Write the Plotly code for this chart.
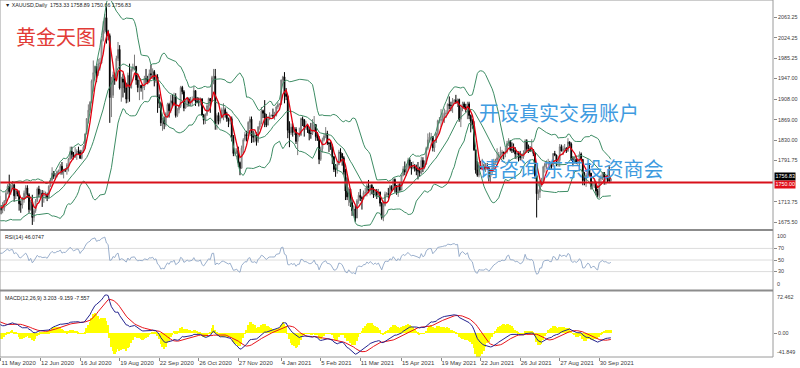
import pandas as pd
import numpy as np
import plotly.graph_objects as go

# ---------------- data (XAUUSD daily, read/estimated from the picture) ----------------
dates = pd.bdate_range("2020-04-01", "2021-10-11")   # one bar per weekday

close = [
    1591, 1613, 1620, 1663, 1647, 1646, 1683, 1683, 1713, 1727, 1716, 1717, 1683, 1694, 1686, 1714, 1730, 1727, 1713, 1707, 1713, 1687,  # 2020-04
    1700, 1702, 1705, 1686, 1725, 1702, 1698, 1702, 1715, 1730, 1743, 1733, 1745, 1746, 1725, 1735, 1728, 1710, 1708, 1718, 1730,  # 2020-05
    1740, 1727, 1699, 1714, 1684, 1697, 1715, 1738, 1728, 1730, 1725, 1727, 1727, 1722, 1743, 1755, 1768, 1762, 1763, 1771, 1772, 1781,  # 2020-06
    1770, 1775, 1774, 1784, 1795, 1809, 1803, 1798, 1802, 1809, 1808, 1796, 1810, 1817, 1842, 1871, 1887, 1902, 1942, 1958, 1970, 1957, 1975,  # 2020-07
    1976, 2019, 2038, 2062, 2035, 2028, 1911, 1915, 1954, 1944, 1985, 2002, 1929, 1946, 1940, 1929, 1908, 1953, 1929, 1964, 1968,  # 2020-08
    1970, 1944, 1930, 1934, 1929, 1931, 1947, 1946, 1940, 1956, 1954, 1960, 1944, 1950, 1912, 1900, 1863, 1868, 1861, 1881, 1898, 1886,  # 2020-09
    1905, 1900, 1913, 1877, 1888, 1894, 1930, 1922, 1891, 1902, 1908, 1900, 1905, 1906, 1924, 1904, 1902, 1902, 1908, 1878, 1868, 1879,  # 2020-10
    1895, 1909, 1904, 1949, 1951, 1862, 1877, 1866, 1873, 1888, 1888, 1879, 1871, 1866, 1871, 1837, 1805, 1807, 1811, 1788, 1777,  # 2020-11
    1815, 1831, 1841, 1838, 1864, 1870, 1838, 1836, 1840, 1828, 1855, 1863, 1886, 1881, 1872, 1859, 1871, 1877, 1877, 1876, 1877, 1893, 1898,  # 2020-12
    1898, 1944, 1950, 1918, 1913, 1849, 1844, 1855, 1845, 1851, 1828, 1840, 1840, 1871, 1869, 1855, 1856, 1850, 1843, 1843, 1848,  # 2021-01
    1860, 1837, 1834, 1794, 1814, 1831, 1838, 1843, 1825, 1824, 1818, 1799, 1775, 1775, 1784, 1808, 1805, 1797, 1770, 1734,  # 2021-02
    1723, 1738, 1712, 1697, 1700, 1683, 1716, 1726, 1722, 1720, 1731, 1731, 1744, 1735, 1745, 1738, 1727, 1734, 1726, 1732, 1711, 1684, 1707,  # 2021-03
    1728, 1729, 1728, 1743, 1737, 1756, 1744, 1732, 1746, 1736, 1763, 1776, 1770, 1778, 1793, 1783, 1777, 1780, 1778, 1773, 1772, 1768,  # 2021-04
    1792, 1779, 1785, 1815, 1831, 1836, 1836, 1816, 1826, 1843, 1867, 1868, 1869, 1876, 1881, 1881, 1898, 1896, 1896, 1903, 1906,  # 2021-05
    1903, 1907, 1870, 1891, 1899, 1893, 1888, 1899, 1877, 1866, 1858, 1812, 1774, 1764, 1782, 1778, 1779, 1776, 1781, 1778, 1761, 1770,  # 2021-06
    1777, 1787, 1792, 1797, 1803, 1803, 1808, 1806, 1808, 1824, 1829, 1812, 1812, 1811, 1804, 1806, 1802, 1797, 1799, 1806, 1829, 1814,  # 2021-07
    1813, 1810, 1812, 1805, 1763, 1729, 1732, 1752, 1752, 1780, 1786, 1787, 1788, 1781, 1781, 1805, 1802, 1790, 1792, 1818, 1810, 1814,  # 2021-08
    1815, 1810, 1827, 1823, 1795, 1789, 1794, 1788, 1793, 1804, 1794, 1754, 1754, 1764, 1774, 1768, 1743, 1750, 1750, 1734, 1726, 1757,  # 2021-09
    1761, 1769, 1760, 1762, 1756, 1753.33, 1756.83,  # 2021-10
]

high = [
    1600, 1626, 1627, 1667, 1671, 1660, 1690, 1686, 1720, 1747, 1733, 1734, 1720, 1698, 1700, 1717, 1739, 1738, 1728, 1714, 1718, 1718,
    1703, 1716, 1712, 1710, 1727, 1727, 1707, 1713, 1717, 1735, 1747, 1765, 1746, 1753, 1748, 1739, 1735, 1735, 1716, 1723, 1735,
    1745, 1745, 1730, 1717, 1727, 1700, 1719, 1741, 1744, 1737, 1736, 1735, 1733, 1731, 1745, 1759, 1779, 1772, 1768, 1773, 1775, 1785,
    1789, 1776, 1777, 1787, 1797, 1818, 1818, 1808, 1817, 1813, 1818, 1812, 1812, 1821, 1843, 1872, 1898, 1904, 1945, 1981, 1971, 1970, 1984,
    1986, 2021, 2055, 2069, 2082, 2039, 2032, 1950, 1960, 1958, 1990, 2016, 2010, 1950, 1956, 1950, 1939, 1958, 1975, 1967, 1975,
    1992, 1970, 1953, 1945, 1935, 1936, 1952, 1965, 1952, 1964, 1973, 1966, 1963, 1956, 1955, 1917, 1903, 1873, 1875, 1883, 1901, 1901,
    1916, 1917, 1920, 1919, 1891, 1897, 1933, 1933, 1925, 1906, 1912, 1911, 1912, 1913, 1932, 1924, 1912, 1911, 1911, 1910, 1880, 1881,
    1898, 1911, 1910, 1952, 1965, 1965, 1881, 1883, 1881, 1892, 1900, 1892, 1884, 1873, 1875, 1875, 1840, 1815, 1815, 1818, 1790,
    1820, 1834, 1846, 1848, 1866, 1875, 1875, 1848, 1845, 1845, 1857, 1867, 1893, 1888, 1906, 1880, 1875, 1883, 1879, 1890, 1884, 1896, 1902,
    1900, 1945, 1952, 1959, 1929, 1915, 1866, 1862, 1862, 1855, 1855, 1843, 1854, 1873, 1875, 1870, 1867, 1860, 1855, 1863, 1870,
    1876, 1860, 1845, 1838, 1818, 1835, 1842, 1855, 1848, 1827, 1828, 1822, 1800, 1785, 1790, 1812, 1815, 1805, 1800, 1776,
    1760, 1741, 1738, 1722, 1707, 1707, 1719, 1732, 1738, 1724, 1735, 1740, 1748, 1755, 1746, 1747, 1742, 1738, 1738, 1738, 1733, 1713, 1716,
    1733, 1732, 1740, 1746, 1745, 1758, 1758, 1745, 1748, 1750, 1765, 1781, 1790, 1785, 1797, 1797, 1789, 1790, 1785, 1784, 1789, 1780,
    1799, 1798, 1792, 1818, 1843, 1845, 1844, 1838, 1830, 1845, 1869, 1874, 1889, 1883, 1890, 1887, 1900, 1913, 1903, 1910, 1908,
    1916, 1909, 1909, 1894, 1903, 1903, 1899, 1903, 1903, 1879, 1870, 1866, 1812, 1791, 1789, 1791, 1795, 1785, 1787, 1787, 1780, 1771,
    1782, 1795, 1795, 1815, 1808, 1818, 1812, 1808, 1817, 1829, 1834, 1830, 1826, 1824, 1817, 1809, 1809, 1810, 1805, 1811, 1832, 1832,
    1822, 1819, 1832, 1813, 1807, 1765, 1737, 1754, 1759, 1782, 1788, 1792, 1795, 1791, 1789, 1806, 1810, 1803, 1800, 1823, 1822, 1820,
    1823, 1817, 1834, 1828, 1826, 1800, 1799, 1801, 1795, 1809, 1807, 1794, 1770, 1768, 1776, 1787, 1768, 1753, 1755, 1752, 1738, 1763,
    1765, 1770, 1770, 1763, 1765, 1781, 1758.89,
]

low = [
    1572, 1584, 1606, 1616, 1641, 1640, 1643, 1680, 1680, 1707, 1705, 1709, 1672, 1675, 1659, 1683, 1712, 1719, 1703, 1690, 1700, 1680,
    1677, 1695, 1693, 1683, 1685, 1699, 1690, 1692, 1696, 1711, 1728, 1722, 1727, 1739, 1714, 1719, 1724, 1697, 1693, 1701, 1712,
    1722, 1721, 1693, 1697, 1670, 1676, 1693, 1713, 1722, 1720, 1704, 1712, 1720, 1715, 1720, 1742, 1752, 1757, 1756, 1760, 1766, 1765,
    1765, 1758, 1770, 1765, 1771, 1793, 1795, 1794, 1797, 1793, 1802, 1795, 1794, 1806, 1814, 1842, 1862, 1882, 1900, 1922, 1943, 1940, 1952,
    1962, 1975, 2017, 2032, 2013, 2019, 1863, 1874, 1910, 1935, 1942, 1980, 1926, 1903, 1911, 1920, 1900, 1901, 1903, 1928, 1960,
    1962, 1935, 1921, 1906, 1922, 1907, 1925, 1938, 1936, 1939, 1947, 1946, 1932, 1939, 1882, 1891, 1857, 1848, 1851, 1856, 1875, 1873,
    1882, 1893, 1895, 1873, 1874, 1881, 1891, 1917, 1885, 1890, 1893, 1894, 1895, 1895, 1904, 1895, 1900, 1894, 1896, 1877, 1860, 1861,
    1876, 1885, 1882, 1902, 1936, 1850, 1850, 1860, 1862, 1871, 1868, 1873, 1865, 1855, 1860, 1828, 1800, 1800, 1804, 1780, 1764,
    1777, 1806, 1828, 1828, 1832, 1851, 1825, 1826, 1826, 1820, 1825, 1850, 1860, 1872, 1855, 1855, 1858, 1868, 1875, 1872, 1869, 1875, 1889,
    1896, 1899, 1937, 1900, 1906, 1834, 1817, 1840, 1837, 1840, 1823, 1802, 1836, 1838, 1857, 1837, 1850, 1844, 1830, 1833, 1840,
    1846, 1829, 1829, 1785, 1791, 1807, 1828, 1834, 1821, 1808, 1812, 1785, 1770, 1761, 1767, 1783, 1790, 1782, 1765, 1717,
    1717, 1706, 1704, 1687, 1687, 1676, 1683, 1710, 1715, 1699, 1718, 1724, 1724, 1730, 1726, 1728, 1721, 1723, 1719, 1722, 1705, 1680, 1677,
    1705, 1725, 1720, 1725, 1733, 1736, 1731, 1727, 1723, 1733, 1736, 1762, 1764, 1763, 1773, 1777, 1765, 1775, 1771, 1764, 1756, 1761,
    1766, 1770, 1775, 1784, 1811, 1826, 1820, 1809, 1808, 1825, 1839, 1862, 1855, 1865, 1863, 1872, 1880, 1889, 1885, 1882, 1899,
    1899, 1893, 1865, 1855, 1885, 1890, 1883, 1870, 1870, 1845, 1852, 1810, 1767, 1761, 1760, 1775, 1773, 1773, 1770, 1774, 1752, 1750,
    1764, 1772, 1786, 1786, 1791, 1797, 1794, 1794, 1798, 1805, 1819, 1809, 1806, 1807, 1795, 1794, 1790, 1792, 1791, 1795, 1806, 1810,
    1806, 1808, 1809, 1800, 1757, 1684, 1717, 1721, 1742, 1750, 1769, 1775, 1783, 1774, 1776, 1779, 1800, 1781, 1780, 1780, 1809, 1802,
    1809, 1806, 1808, 1818, 1791, 1781, 1786, 1785, 1782, 1781, 1790, 1745, 1745, 1742, 1760, 1763, 1737, 1738, 1740, 1726, 1722, 1721,
    1746, 1755, 1746, 1746, 1750, 1749, 1750.66,
]

first_open = 1577.0                     # open of the first bar
open_ = [first_open] + close[:-1]       # each daily open is the prior session's close

assert len(dates) == len(close) == len(high) == len(low)

date_ticks = ["2020-05-11", "2020-06-12", "2020-07-16", "2020-08-19", "2020-09-22", "2020-10-26",
              "2020-11-27", "2021-01-04", "2021-02-05", "2021-03-11", "2021-04-15", "2021-05-19",
              "2021-06-22", "2021-07-26", "2021-08-27", "2021-09-30"]
date_labels = ["11 May 2020", "12 Jun 2020", "16 Jul 2020", "19 Aug 2020", "22 Sep 2020", "26 Oct 2020",
               "27 Nov 2020", "4 Jan 2021", "5 Feb 2021", "11 Mar 2021", "15 Apr 2021", "19 May 2021",
               "22 Jun 2021", "26 Jul 2021", "27 Aug 2021", "30 Sep 2021"]
price_ticks = [2063.25, 2024.25, 1985.25, 1947.00, 1908.00, 1869.00, 1830.00, 1791.75, 1713.75, 1675.50]
rsi_levels = [70, 50, 30]
level_price = 1750.00
last_price = 1756.83
macd_top, macd_bottom = 72.462, -41.849

title_text = "▼ XAUUSD,Daily  1753.33 1758.89 1750.66 1756.83"
rsi_text = "RSI(14) 46.0747"
macd_text = "MACD(12,26,9) 3.203 -9.159 -7.557"

# ---------------- indicators ----------------
c = pd.Series(close, index=dates, dtype=float)
ma5 = c.rolling(5).mean()
bb_mid = c.rolling(20).mean()
bb_std = c.rolling(20).std(ddof=0)
bb_up = bb_mid + 2 * bb_std
bb_dn = bb_mid - 2 * bb_std

d = c.diff()
gain = d.clip(lower=0).ewm(alpha=1 / 14, adjust=False).mean()
loss = (-d.clip(upper=0)).ewm(alpha=1 / 14, adjust=False).mean()
rsi = 100 - 100 / (1 + gain / loss)

ema12 = c.ewm(span=12, adjust=False).mean()
ema26 = c.ewm(span=26, adjust=False).mean()
macd = ema12 - ema26
signal = macd.rolling(9).mean()
hist = 2 * (macd - signal)

# ---------------- figure ----------------
W, H = 800, 368
ML, MR, MT, MB = 0, 27, 0, 11
PH = H - MT - MB  # 357


def yd(top_px, bot_px):
    return [(PH - bot_px) / PH, (PH - top_px) / PH]


FONT = "Liberation Sans"
AXC = "#3c3c3c"
GREEN = "#3d8c64"

fig = go.Figure()

fig.add_trace(go.Candlestick(
    x=dates, open=open_, high=high, low=low, close=close, xaxis="x", yaxis="y",
    increasing=dict(line=dict(color="#7a7a7a", width=1), fillcolor="#ffffff"),
    decreasing=dict(line=dict(color="#000000", width=1), fillcolor="#000000"),
    whiskerwidth=0, hoverinfo="skip", showlegend=False))

for s in (bb_up, bb_mid, bb_dn):
    fig.add_trace(go.Scatter(x=dates, y=s, mode="lines", line=dict(color=GREEN, width=1),
                             xaxis="x", yaxis="y", hoverinfo="skip", showlegend=False))
fig.add_trace(go.Scatter(x=dates, y=ma5, mode="lines", line=dict(color="#e3000f", width=1.3),
                         xaxis="x", yaxis="y", hoverinfo="skip", showlegend=False))

fig.add_trace(go.Scatter(x=dates, y=rsi, mode="lines", line=dict(color="#8ea6c6", width=0.9),
                         xaxis="x2", yaxis="y2", hoverinfo="skip", showlegend=False))

fig.add_trace(go.Bar(x=dates, y=hist, marker=dict(color="#ffff00", line=dict(width=0)),
                     xaxis="x3", yaxis="y3", hoverinfo="skip", showlegend=False))
fig.add_trace(go.Scatter(x=dates, y=signal, mode="lines", line=dict(color="#e8141c", width=1),
                         xaxis="x3", yaxis="y3", hoverinfo="skip", showlegend=False))
fig.add_trace(go.Scatter(x=dates, y=macd, mode="lines", line=dict(color="#23238f", width=1),
                         xaxis="x3", yaxis="y3", hoverinfo="skip", showlegend=False))

xrange_ = ["2020-05-08 09:36", "2022-02-24 09:36"]
rb = [dict(bounds=["sat", "mon"])]
xcommon = dict(range=xrange_, rangebreaks=rb, showgrid=False, zeroline=False, domain=[0, 1],
               rangeslider=dict(visible=False), tickangle=0)

ycommon = dict(side="right", showgrid=False, zeroline=False, ticks="outside", ticklen=3,
               tickcolor="#8a8a8a", tickfont=dict(family=FONT, size=5.4, color=AXC), fixedrange=True)

fig.update_layout(
    width=W, height=H, margin=dict(l=ML, r=MR, t=MT, b=MB),
    paper_bgcolor="white", plot_bgcolor="white", bargap=0, showlegend=False,
    xaxis=dict(**xcommon, anchor="y", showticklabels=False, ticks=""),
    xaxis2=dict(**xcommon, anchor="y2", matches="x", showticklabels=False, ticks=""),
    xaxis3=dict(**xcommon, anchor="y3", matches="x", tickmode="array", tickvals=date_ticks,
                ticktext=date_labels, ticks="outside", ticklen=3, tickcolor="#8a8a8a",
                ticklabelposition="outside right",
                tickfont=dict(family=FONT, size=6, color=AXC)),
    yaxis=dict(**ycommon, domain=yd(1, 228.5), range=[1663.21, 2093.51], tickmode="array",
               tickvals=price_ticks, ticktext=[f"{v:.2f}" for v in price_ticks]),
    yaxis2=dict(**ycommon, domain=yd(231, 289), range=[0, 100], tickmode="array",
                tickvals=rsi_levels, ticktext=[str(v) for v in rsi_levels]),
    yaxis3=dict(**ycommon, domain=yd(292, 357), range=[macd_bottom, macd_top], tickmode="array",
                tickvals=[0], ticktext=["0.00"]),
)

shapes = []
for v in rsi_levels:
    shapes.append(dict(type="line", xref="x2 domain", x0=0, x1=1, yref="y2", y0=v, y1=v,
                       line=dict(color="#dcdcdc", width=1), layer="below"))
shapes.append(dict(type="line", xref="x domain", x0=0, x1=1, yref="y", y0=level_price, y1=level_price,
                   line=dict(color="#d8101a", width=2)))
# frames and panel separators
shapes.append(dict(type="rect", xref="paper", yref="paper", x0=0, x1=1, y0=0, y1=1,
                   line=dict(color="#9a9a9a", width=1)))
for py in (230, 290.5):
    yy = (PH - py) / PH
    shapes.append(dict(type="line", xref="paper", yref="paper", x0=0, x1=1, y0=yy, y1=yy,
                       line=dict(color="#8c8c8c", width=2)))
fig.update_layout(shapes=shapes)

ann = []


def px_x(x):
    return x / (W - ML - MR)


def px_y(y):
    return (PH - y) / PH


ann.append(dict(text=title_text, x=px_x(3), y=px_y(5.5), xref="paper", yref="paper",
                xanchor="left", yanchor="middle", showarrow=False,
                font=dict(family=FONT, size=5.3, color="#222")))
ann.append(dict(text=rsi_text, x=px_x(3), y=px_y(237), xref="paper", yref="paper",
                xanchor="left", yanchor="middle", showarrow=False,
                font=dict(family=FONT, size=5.3, color="#222")))
ann.append(dict(text=macd_text, x=px_x(3), y=px_y(297.5), xref="paper", yref="paper",
                xanchor="left", yanchor="middle", showarrow=False,
                font=dict(family=FONT, size=5.3, color="#222")))

# axis end labels (inset like the terminal does)
for txt, yv, yr, anc in [("100", 100, "y2", "top"), ("0", 0, "y2", "bottom"),
                         (f"{macd_top:.3f}", macd_top, "y3", "top"),
                         (f"{macd_bottom:.3f}", macd_bottom, "y3", "bottom")]:
    ann.append(dict(text=txt, x=1, y=yv, xref="paper", yref=yr, xanchor="left", yanchor=anc,
                    xshift=2, showarrow=False, font=dict(family=FONT, size=5.4, color=AXC)))

# price boxes
ann.append(dict(text=f"{last_price:.2f}", x=1, y=last_price, xref="paper", yref="y", xanchor="left",
                yanchor="middle", xshift=1, yshift=2.5, showarrow=False, bgcolor="#000000", borderpad=0.4,
                font=dict(family=FONT, size=5.4, color="#ffffff")))
ann.append(dict(text=f"{level_price:.2f}", x=1, y=level_price, xref="paper", yref="y", xanchor="left",
                yanchor="middle", xshift=1, yshift=-1.8, showarrow=False, bgcolor="#e0101a", borderpad=0.4,
                font=dict(family=FONT, size=5.4, color="#ffffff")))

# watermarks
CJK = "Noto Sans CJK SC"
ann.append(dict(text="黄金天图", x=px_x(14), y=px_y(37), xref="paper", yref="paper",
                xanchor="left", yanchor="middle", showarrow=False,
                font=dict(family=CJK, size=20, color="#e23b36")))
ann.append(dict(text="开设真实交易账户", x=px_x(477), y=px_y(112), xref="paper", yref="paper",
                xanchor="left", yanchor="middle", showarrow=False,
                font=dict(family=CJK, size=20, color="#3f9be0")))
ann.append(dict(text="请咨询 东京投资商会", x=px_x(477), y=px_y(168), xref="paper", yref="paper",
                xanchor="left", yanchor="middle", showarrow=False,
                font=dict(family=CJK, size=20, color="#3f9be0")))

fig.update_layout(annotations=ann)

fig.write_html("out.html")
